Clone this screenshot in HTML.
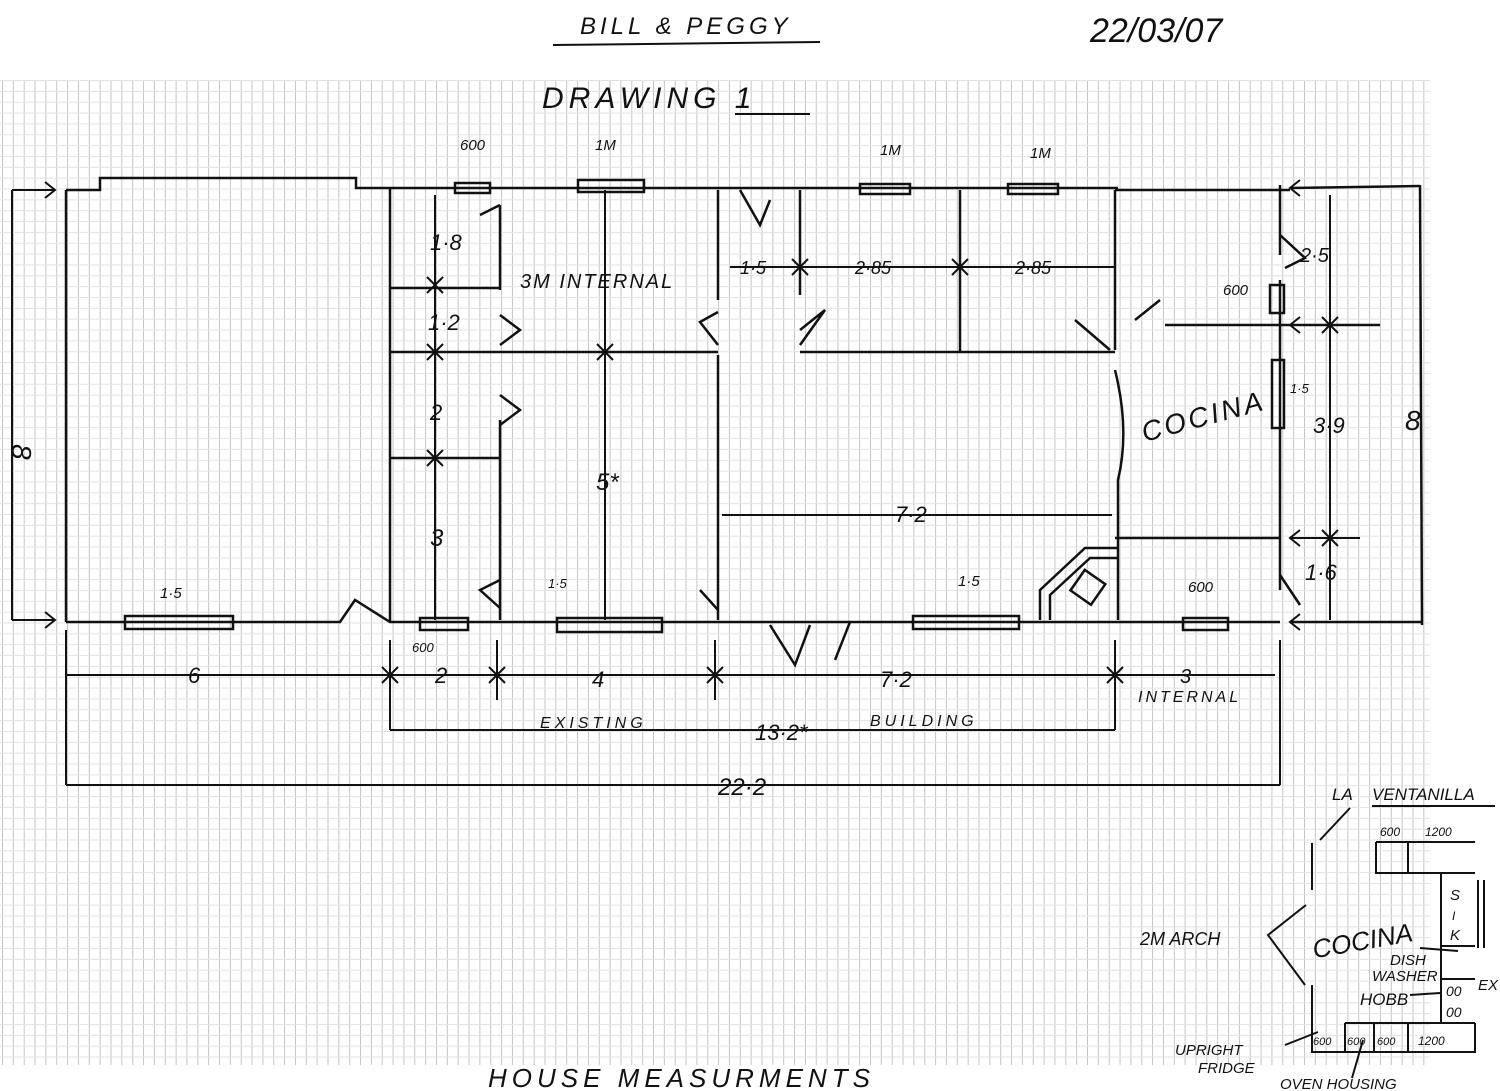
<!DOCTYPE html>
<html><head><meta charset="utf-8"><style>
html,body{margin:0;padding:0;background:#fff;}
svg{display:block;}
text{font-family:"Liberation Sans",sans-serif;fill:#111;}
</style></head><body>
<svg width="1500" height="1091" viewBox="0 0 1500 1091" xmlns="http://www.w3.org/2000/svg">
<defs>
<pattern id="g" x="2" y="80" width="10.85" height="10.85" patternUnits="userSpaceOnUse">
<line x1="0.5" y1="0" x2="0.5" y2="10.85" stroke="#c4c4c4" stroke-width="1"/>
<line x1="0" y1="0.5" x2="10.85" y2="0.5" stroke="#e2e2e2" stroke-width="1"/>
</pattern>
</defs>
<rect width="1500" height="1091" fill="#fff"/>
<rect x="0" y="80" width="1430" height="985" fill="url(#g)"/>

<!-- header -->
<text x="580" y="34" font-size="24" letter-spacing="4" font-style="italic">BILL &amp; PEGGY</text>
<line x1="553" y1="45" x2="820" y2="42" stroke="#111" stroke-width="2"/>
<text x="1090" y="42" font-size="34" font-style="italic">22/03/07</text>
<text x="542" y="108" font-size="30" letter-spacing="5" font-style="italic">DRAWING 1</text>
<line x1="735" y1="114" x2="810" y2="114" stroke="#111" stroke-width="2"/>

<g stroke="#111" stroke-width="2.5" fill="none">
<path d="M66 190 H100 V178 H356 V188 H1118"/>
<path d="M1115 190 H1290"/>
<line x1="66" y1="190" x2="66" y2="622"/>
<path d="M66 622 H340 L355 600 L390 622 H1280"/>
<line x1="1420" y1="185" x2="1422" y2="625"/>
<line x1="1290" y1="622" x2="1422" y2="622"/>
<line x1="1290" y1="188" x2="1420" y2="186"/>
<line x1="390" y1="188" x2="390" y2="622"/>
<line x1="500" y1="205" x2="500" y2="290"/>
<line x1="500" y1="420" x2="500" y2="620"/>
<line x1="718" y1="190" x2="718" y2="300"/>
<line x1="718" y1="355" x2="718" y2="620"/>
<line x1="800" y1="190" x2="800" y2="295"/>
<line x1="960" y1="190" x2="960" y2="352"/>
<line x1="1115" y1="190" x2="1115" y2="350"/>
<path d="M1115 370 Q1130 430 1118 480 L1118 620"/>
<line x1="1280" y1="185" x2="1280" y2="255"/>
<line x1="1280" y1="280" x2="1280" y2="590"/>
<line x1="390" y1="288" x2="500" y2="288"/>
<line x1="390" y1="352" x2="718" y2="352"/>
<line x1="390" y1="458" x2="500" y2="458"/>
<line x1="800" y1="352" x2="1115" y2="352"/>
<line x1="1115" y1="538" x2="1280" y2="538"/>
<line x1="1165" y1="325" x2="1380" y2="325"/>
<path d="M500 205 L480 215 M500 315 L520 330 L500 345 M500 395 L520 410 L500 425 M500 580 L480 590 L500 608"/>
<path d="M718 312 L700 322 L718 345 M740 190 L760 225 L770 200"/>
<path d="M800 330 L825 310 L800 345 M1075 320 L1110 350 M1135 320 L1160 300"/>
<path d="M700 590 L718 610 M770 625 L795 665 L810 625 M850 622 L835 660"/>
<path d="M1280 235 L1305 258 L1285 268 M1280 575 L1300 605"/>
<rect x="455" y="183" width="35" height="10"/>
<rect x="578" y="180" width="66" height="12"/>
<rect x="860" y="184" width="50" height="10"/>
<rect x="1008" y="184" width="50" height="10"/>
<rect x="125" y="616" width="108" height="13"/>
<rect x="420" y="618" width="48" height="12"/>
<rect x="557" y="618" width="105" height="14"/>
<rect x="913" y="616" width="106" height="13"/>
<rect x="1183" y="618" width="45" height="12"/>
<rect x="1270" y="285" width="14" height="28"/>
<rect x="1272" y="360" width="12" height="68"/>
<path d="M1040 620 V590 L1085 548 H1118 M1050 620 V595 L1090 558 H1118"/>
<rect x="1075" y="575" width="25" height="25" transform="rotate(35 1088 588)"/>
</g>

<g stroke="#111" stroke-width="2" fill="none">
<line x1="12" y1="190" x2="12" y2="620"/>
<path d="M12 190 H55 M45 182 L55 190 L45 198 M12 620 H55 M45 612 L55 620 L45 628"/>
<line x1="435" y1="195" x2="435" y2="620"/>
<line x1="605" y1="190" x2="605" y2="620"/>
<line x1="722" y1="515" x2="1112" y2="515"/>
<line x1="730" y1="267" x2="1115" y2="267"/>
<line x1="1330" y1="195" x2="1330" y2="620"/>
<line x1="1290" y1="325" x2="1380" y2="325"/>
<line x1="1290" y1="538" x2="1360" y2="538"/>
<path d="M1300 180 L1290 188 L1300 196 M1300 317 L1290 325 L1300 333 M1300 530 L1290 538 L1300 546 M1300 614 L1290 622 L1300 630"/>
<line x1="66" y1="675" x2="1275" y2="675"/>
<line x1="390" y1="730" x2="1115" y2="730"/>
<line x1="390" y1="640" x2="390" y2="730"/>
<line x1="1115" y1="640" x2="1115" y2="730"/>
<line x1="66" y1="785" x2="1280" y2="785"/>
<line x1="66" y1="630" x2="66" y2="785"/>
<line x1="1280" y1="640" x2="1280" y2="785"/>
<line x1="497" y1="640" x2="497" y2="700"/>
<line x1="715" y1="640" x2="715" y2="700"/>
<path d="M427 277 L443 293 M443 277 L427 293 M427 344 L443 360 M443 344 L427 360 M427 450 L443 466 M443 450 L427 466 M597 344 L613 360 M613 344 L597 360 M792 259 L808 275 M808 259 L792 275 M952 259 L968 275 M968 259 L952 275 M1322 317 L1338 333 M1338 317 L1322 333 M1322 530 L1338 546 M1338 530 L1322 546"/>
<path d="M382 667 L398 683 M398 667 L382 683 M489 667 L505 683 M505 667 L489 683 M707 667 L723 683 M723 667 L707 683 M1107 667 L1123 683 M1123 667 L1107 683"/>
</g>

<g font-style="italic">
<text x="36" y="440" font-size="28" transform="rotate(90 22 430)">8</text>
<text x="430" y="250" font-size="22">1·8</text>
<text x="428" y="330" font-size="22">1·2</text>
<text x="430" y="420" font-size="22">2</text>
<text x="430" y="546" font-size="24">3</text>
<text x="520" y="288" font-size="20" letter-spacing="2">3M INTERNAL</text>
<text x="596" y="490" font-size="24">5*</text>
<text x="740" y="274" font-size="18">1·5</text>
<text x="855" y="274" font-size="18">2·85</text>
<text x="1015" y="274" font-size="18">2·85</text>
<text x="895" y="522" font-size="22">7·2</text>
<text x="1140" y="432" font-size="28" transform="rotate(-15 1180 420)" letter-spacing="3">COCINA</text>
<text x="1300" y="262" font-size="20">2·5</text>
<text x="1223" y="295" font-size="15">600</text>
<text x="1290" y="393" font-size="13">1·5</text>
<text x="1313" y="433" font-size="22">3·9</text>
<text x="1405" y="430" font-size="28">8</text>
<text x="1305" y="580" font-size="22">1·6</text>
<text x="460" y="150" font-size="15">600</text>
<text x="595" y="150" font-size="15">1M</text>
<text x="880" y="155" font-size="15">1M</text>
<text x="1030" y="158" font-size="15">1M</text>
<text x="160" y="598" font-size="15">1·5</text>
<text x="548" y="588" font-size="13">1·5</text>
<text x="958" y="586" font-size="15">1·5</text>
<text x="1188" y="592" font-size="15">600</text>
<text x="412" y="652" font-size="13">600</text>
<text x="188" y="683" font-size="22">6</text>
<text x="435" y="683" font-size="22">2</text>
<text x="592" y="687" font-size="22">4</text>
<text x="880" y="687" font-size="22">7·2</text>
<text x="1180" y="683" font-size="20">3</text>
<text x="1138" y="702" font-size="16" letter-spacing="3">INTERNAL</text>
<text x="540" y="728" font-size="16" letter-spacing="4">EXISTING</text>
<text x="755" y="740" font-size="22">13·2*</text>
<text x="870" y="726" font-size="16" letter-spacing="4">BUILDING</text>
<text x="718" y="795" font-size="24">22·2</text>
<text x="488" y="1087" font-size="26" letter-spacing="5">HOUSE MEASURMENTS</text>
</g>

<g stroke="#111" stroke-width="2" fill="none">
<path d="M1312 843 V890 M1312 985 V1052 H1475 V1023 M1376 842 H1475 M1376 842 V873 H1475 M1408 842 V872 M1441 873 V1023 M1441 946 H1475 M1441 979 H1475 M1345 1023 H1475 M1345 1023 V1052 M1374 1023 V1052 M1408 1023 V1052 M1478 880 V948 M1484 880 V948 M1320 840 L1350 808 M1306 905 L1268 935 L1305 985 M1372 806 H1495 M1420 948 L1458 951 M1410 995 L1440 993 M1285 1045 L1318 1032 M1363 1040 L1352 1078"/>
</g>
<g font-style="italic" font-size="16">
<text x="1332" y="800" font-size="17">LA</text>
<text x="1372" y="800" font-size="17">VENTANILLA</text>
<text x="1380" y="836" font-size="12">600</text>
<text x="1425" y="836" font-size="12">1200</text>
<text x="1310" y="950" font-size="26" transform="rotate(-10 1360 930)">COCINA</text>
<text x="1140" y="945" font-size="18">2M ARCH</text>
<text x="1450" y="900" font-size="15">S</text>
<text x="1452" y="920" font-size="12">I</text>
<text x="1450" y="940" font-size="15">K</text>
<text x="1390" y="965" font-size="15">DISH</text>
<text x="1372" y="981" font-size="15">WASHER</text>
<text x="1360" y="1005" font-size="17">HOBB</text>
<text x="1446" y="996" font-size="14">00</text>
<text x="1446" y="1017" font-size="14">00</text>
<text x="1478" y="990" font-size="15">EX</text>
<text x="1313" y="1045" font-size="11">600</text>
<text x="1347" y="1045" font-size="11">600</text>
<text x="1377" y="1045" font-size="11">600</text>
<text x="1418" y="1045" font-size="12">1200</text>
<text x="1175" y="1055" font-size="15">UPRIGHT</text>
<text x="1198" y="1073" font-size="15">FRIDGE</text>
<text x="1280" y="1089" font-size="15">OVEN HOUSING</text>
</g>
</svg>
</body></html>
